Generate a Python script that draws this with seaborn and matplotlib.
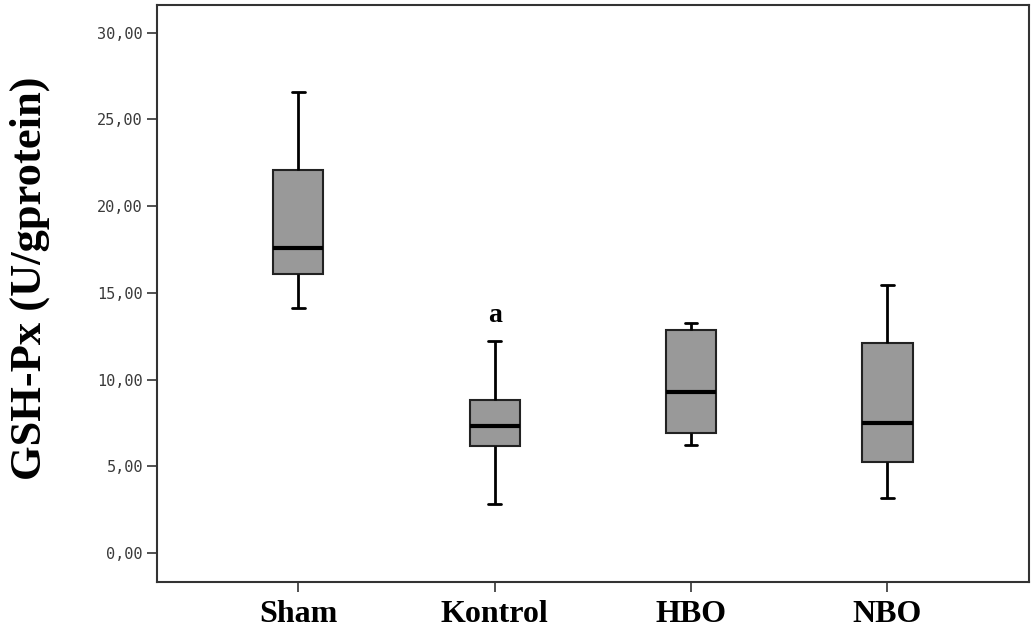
import numpy as np
import pandas as pd
import seaborn as sns
import matplotlib.pyplot as plt

# values: whisker low, Q1, median, Q3, whisker high
groups = ["Sham", "Kontrol", "HBO", "NBO"]
sham = [14.1, 16.1, 17.6, 22.1, 26.6]
kontrol = [2.8, 6.2, 7.35, 8.85, 12.2]
hbo = [6.25, 6.9, 9.27, 12.87, 13.25]
nbo = [3.2, 5.27, 7.52, 12.1, 15.45]
yticks = [0, 5, 10, 15, 20, 25, 30]
ytick_labels = ["0,00", "5,00", "10,00", "15,00", "20,00", "25,00", "30,00"]

df = pd.DataFrame({
    "group": np.repeat(groups, 5),
    "value": sham + kontrol + hbo + nbo,
})

sns.set_style("white")
fig = plt.figure(figsize=(10.32, 6.37), dpi=100)
ax = fig.add_axes([0.152, 0.0863, 0.845, 0.906])

sns.boxplot(
    data=df, x="group", y="value", order=groups, ax=ax,
    color="#999999", saturation=1, width=0.255, whis=np.inf,
    linecolor="#222222", linewidth=1.5,
    medianprops={"color": "black", "linewidth": 3},
    whiskerprops={"color": "black", "linewidth": 2},
    capprops={"color": "black", "linewidth": 2},
    capwidths=0.065,
)

ax.set_xlim(-0.72, 3.72)
ax.set_ylim(-1.67, 31.6)
ax.set_yticks(yticks)
ax.set_yticklabels(ytick_labels, family="DejaVu Sans Mono", fontsize=11, color="#3a3a3a")
ax.set_xticks(range(len(groups)))
ax.set_xticklabels(groups, family="Liberation Serif", fontweight="bold", fontsize=23, color="black")
ax.tick_params(axis="both", direction="out", length=7, width=1.2, color="#333333", left=True, bottom=True)
ax.tick_params(axis="x", pad=6)
ax.tick_params(axis="y", pad=3)
ax.set_xlabel("")
ax.set_ylabel("")
for s in ax.spines.values():
    s.set_visible(True)
    s.set_color("#333333")
    s.set_linewidth(1.5)

ax.text(1, 13.7, "a", ha="center", va="center", family="Liberation Serif",
        fontweight="bold", fontsize=20, color="black")

fig.text(30 / 1032, 1 - 278 / 637, "GSH-Px (U/gprotein)", rotation=90,
         ha="center", va="center", family="Liberation Serif",
         fontweight="bold", fontsize=32, color="black")

fig.savefig("out.png", dpi=100)
